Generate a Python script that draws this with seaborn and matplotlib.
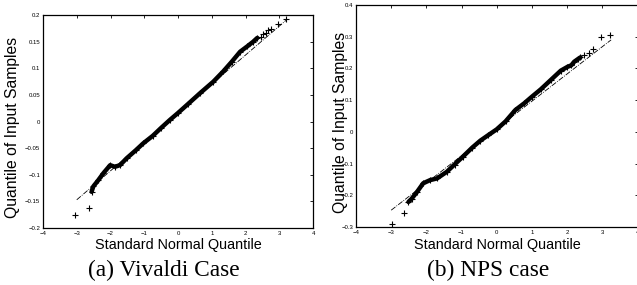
import numpy as np
import pandas as pd
import matplotlib
matplotlib.use("Agg")
import matplotlib.pyplot as plt
import seaborn as sns

# (a) Vivaldi case: theoretical (standard normal) vs sample quantiles
vivaldi_z = [-3.05, -2.64, -2.56, -2.51, -2.36, -2.21, -2.01, -1.87, -1.72, -1.52,
             -1.25, -1.03, -0.75, -0.5, -0.24, 0.0, 0.3, 0.65, 1.05, 1.34, 1.59,
             1.84, 2.05, 2.23, 2.35, 2.45, 2.53, 2.6, 2.68, 2.75, 2.97, 3.2]
vivaldi_q = [-0.176, -0.162, -0.132, -0.122, -0.11, -0.097, -0.082, -0.085, -0.082,
             -0.069, -0.054, -0.041, -0.027, -0.012, 0.003, 0.016, 0.033, 0.053,
             0.075, 0.094, 0.112, 0.131, 0.141, 0.15, 0.157, 0.159, 0.164, 0.167,
             0.172, 0.174, 0.183, 0.192]
vivaldi_ref_x = [-3.0, 3.2]
vivaldi_ref_y = [-0.147, 0.19]

# (b) NPS case
nps_z = [-2.99, -2.64, -2.51, -2.42, -2.27, -2.09, -1.89, -1.7, -1.42, -1.2, -0.96,
         -0.7, -0.47, -0.25, 0.0, 0.25, 0.53, 0.78, 1.0, 1.25, 1.53, 1.82, 2.01,
         2.12, 2.2, 2.3, 2.38, 2.49, 2.63, 2.73, 2.96, 3.23]
nps_q = [-0.289, -0.255, -0.221, -0.211, -0.19, -0.162, -0.152, -0.147, -0.126,
         -0.103, -0.078, -0.05, -0.028, -0.011, 0.008, 0.033, 0.069, 0.09, 0.111,
         0.134, 0.163, 0.193, 0.205, 0.21, 0.221, 0.229, 0.235, 0.242, 0.25, 0.26,
         0.30, 0.305]
nps_ref_x = [-3.0, 3.25]
nps_ref_y = [-0.247, 0.29]

xticks = [-4, -3, -2, -1, 0, 1, 2, 3, 4]
xtick_labels = ["\u22124", "\u22123", "\u22122", "\u22121", "0", "1", "2", "3", "4"]
yticks_a = [-0.2, -0.15, -0.1, -0.05, 0, 0.05, 0.1, 0.15, 0.2]
ytick_labels_a = ["\u22120.2", "\u22120.15", "\u22120.1", "\u22120.05", "0",
                  "0.05", "0.1", "0.15", "0.2"]
yticks_b = [-0.3, -0.2, -0.1, 0, 0.1, 0.2, 0.3, 0.4]
ytick_labels_b = ["\u22120.3", "\u22120.2", "\u22120.1", "0", "0.1", "0.2", "0.3", "0.4"]

sns.set_style("white")
plt.rcParams["font.family"] = ["Liberation Sans", "DejaVu Sans"]

W, H = 637, 285
fig = plt.figure(figsize=(W / 100, H / 100), dpi=100)


def px_axes(left, top, right, bottom):
    return fig.add_axes([left / W, 1 - bottom / H, (right - left) / W, (bottom - top) / H])


def qq_panel(ax, z, q, ref_x, ref_y, yticks, ylabels, ylim):
    df = pd.DataFrame({"z": z, "q": q})
    # the dense middle of the sample reads as a solid band
    body = df[(df["z"] > -2.6) & (df["z"] < 2.4)]
    sns.lineplot(data=body, x="z", y="q", ax=ax, color="black", lw=3.2,
                 sort=False, estimator=None)
    sns.scatterplot(data=df, x="z", y="q", ax=ax, marker="+", color="black",
                    s=14, linewidth=0.8)
    ax.plot(ref_x, ref_y, color="black", lw=0.6, ls="-.")
    ax.set_xlim(-4, 4)
    ax.set_ylim(*ylim)
    ax.set_xticks(xticks)
    ax.set_xticklabels(xtick_labels)
    ax.set_yticks(yticks)
    ax.set_yticklabels(ylabels)
    ax.tick_params(direction="in", length=2.5, width=0.6, labelsize=4.3, pad=2,
                   top=True, right=True, colors="black")
    ax.set_xlabel("")
    ax.set_ylabel("")
    for s in ax.spines.values():
        s.set_color("black")
        s.set_linewidth(0.9)


ax1 = px_axes(43, 15, 313, 228)
qq_panel(ax1, vivaldi_z, vivaldi_q, vivaldi_ref_x, vivaldi_ref_y,
         yticks_a, ytick_labels_a, (-0.2, 0.2))

ax2 = px_axes(356, 5, 637.5, 227)
qq_panel(ax2, nps_z, nps_q, nps_ref_x, nps_ref_y,
         yticks_b, ytick_labels_b, (-0.3, 0.4))

fig.text(178 / W, 1 - 249 / H, "Standard Normal Quantile", ha="center", va="baseline",
         fontsize=10.4, color="black")
fig.text(497 / W, 1 - 249 / H, "Standard Normal Quantile", ha="center", va="baseline",
         fontsize=10.4, color="black")
fig.text(13 / W, 1 - 127 / H, "Quantile of Input Samples", ha="center", va="center",
         rotation=90, fontsize=11.3, color="black")
fig.text(341 / W, 1 - 122 / H, "Quantile of Input Samples", ha="center", va="center",
         rotation=90, fontsize=11.3, color="black")

cap = dict(fontsize=16.8, color="black", family=["Liberation Serif", "DejaVu Serif"])
fig.text(163.5 / W, 1 - 276 / H, "(a) Vivaldi Case", ha="center", va="baseline", **cap)
fig.text(488 / W, 1 - 276 / H, "(b) NPS case", ha="center", va="baseline", **cap)

fig.savefig("out.png", dpi=100)
